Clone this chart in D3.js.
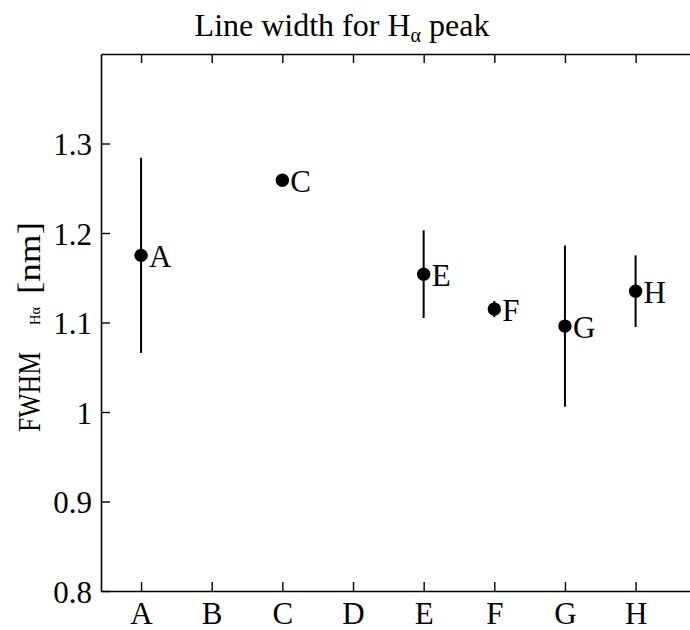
<!DOCTYPE html>
<html><head><meta charset="utf-8">
<script src="https://cdn.jsdelivr.net/npm/d3@7"></script>
<style>body{margin:0;background:#fff}svg{display:block}text{font-family:"Liberation Serif","DejaVu Serif",serif;fill:#000}</style>
</head><body>
<svg id="c" width="690" height="630"></svg>
<script>
const categories = ["A","B","C","D","E","F","G","H"];
const pointCats = ["A","C","E","F","G","H"];
const fwhm = [1.175, 1.259, 1.154, 1.115, 1.096, 1.135];
const errs = [0.109, 0.0, 0.049, 0.009, 0.09, 0.04];
const yTicks = [0.8, 0.9, 1, 1.1, 1.2, 1.3];

const svg = d3.select("#c");
const L = 101, R = 690, T = 54, B = 591;
const x = d3.scaleLinear().domain([-0.567, 7.77]).range([L, R]);
const y = d3.scaleLinear().domain([0.8, 1.4]).range([B, T]);
const xi = c => x(categories.indexOf(c));

const gB = svg.append("g").attr("transform", `translate(0,${B})`)
  .call(d3.axisBottom(x).tickValues(d3.range(categories.length)).tickFormat(i => categories[i]).tickSizeInner(-9).tickSizeOuter(0).tickPadding(11));
const gT = svg.append("g").attr("transform", `translate(0,${T})`)
  .call(d3.axisTop(x).tickValues(d3.range(categories.length)).tickFormat("").tickSizeInner(-9).tickSizeOuter(0));
const gL = svg.append("g").attr("transform", `translate(${L},0)`)
  .call(d3.axisLeft(y).tickValues(yTicks).tickFormat(d => d === 1 ? "1" : d3.format(".1f")(d)).tickSizeInner(-9).tickSizeOuter(0).tickPadding(9));

[gB, gT, gL].forEach(g => {
  g.select(".domain").attr("stroke", "#000").attr("stroke-width", 1.6);
  g.selectAll(".tick line").attr("stroke", "#000").attr("stroke-width", 1.4);
  g.selectAll(".tick text").attr("font-size", 31).attr("font-family", "Liberation Serif, serif");
});
gB.selectAll(".tick text").attr("dy", "0.71em");
gL.selectAll(".tick text").attr("dy", "0.36em");

const data = pointCats.map((c, i) => ({c, v: fwhm[i], e: errs[i]}));
svg.append("g").selectAll("line").data(data).join("line")
  .attr("x1", d => xi(d.c)).attr("x2", d => xi(d.c))
  .attr("y1", d => y(d.v - d.e)).attr("y2", d => y(d.v + d.e))
  .attr("stroke", "#000").attr("stroke-width", 2);
svg.append("g").selectAll("circle").data(data).join("circle")
  .attr("cx", d => xi(d.c)).attr("cy", d => y(d.v)).attr("r", 6.7).attr("fill", "#000");
svg.append("g").selectAll("text").data(data).join("text")
  .attr("x", d => xi(d.c) + 8).attr("y", d => y(d.v) + 12)
  .attr("font-size", 31).text(d => d.c);

const t = svg.append("text").attr("x", 342).attr("y", 36).attr("text-anchor", "middle").attr("font-size", 32);
t.append("tspan").text("Line width for H");
t.append("tspan").attr("font-size", 20).attr("dy", 6).text("α");
t.append("tspan").attr("dy", -6).text(" peak");

// y label (rotated)
const yl = svg.append("g").attr("transform", "translate(40,0) rotate(-90)");
yl.append("text").attr("x", -432).attr("y", 0).attr("font-size", 31)
  .attr("textLength", 80).attr("lengthAdjust", "spacingAndGlyphs").text("FWHM");
yl.append("text").attr("x", -325).attr("y", 0).attr("font-size", 15)
  .attr("textLength", 18).attr("lengthAdjust", "spacingAndGlyphs").text("Hα");
yl.append("text").attr("x", -294).attr("y", 0).attr("font-size", 31)
  .attr("textLength", 72).attr("lengthAdjust", "spacingAndGlyphs").text("[nm]");
</script>
</body></html>
